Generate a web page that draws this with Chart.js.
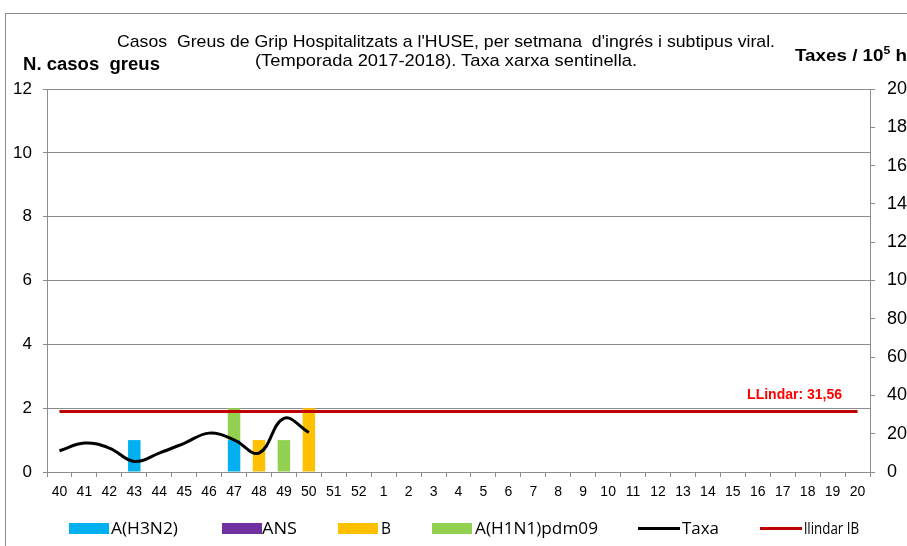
<!DOCTYPE html>
<html>
<head>
<meta charset="utf-8">
<script src="https://cdn.jsdelivr.net/npm/chart.js@4.4.1/dist/chart.umd.min.js"></script>
<style>
  html, body { margin: 0; padding: 0; background: #fff; }
  #wrap { position: relative; width: 907px; height: 546px; overflow: hidden; font-family: "Liberation Sans", Arial, sans-serif; }
  #frame { position: absolute; left: 5px; top: 13px; width: 910px; height: 540px; border: 1px solid #8a8a8a; box-sizing: border-box; }
  #chart { position: absolute; left: 0; top: 0; }
  .fit { position: absolute; white-space: nowrap; transform-origin: 0 0; color: #000; }
  .title { font-size: 17px; }
  .axt { font-weight: bold; font-size: 18px; }
  .sw { position: absolute; top: 523px; width: 40px; height: 11px; }
  .ln { position: absolute; top: 527px; width: 42px; height: 3px; }
  .lt { font-size: 17px; top: 516px; font-family: "Open Sans", "Liberation Sans", sans-serif; }
</style>
</head>
<body>
<div id="wrap">
  <div id="frame"></div>
  <canvas id="chart" width="907" height="546"></canvas>
  <div class="fit title" data-x="117" data-w="658" style="top:32px">Casos&nbsp; Greus de Grip Hospitalitzats a l'HUSE, per setmana&nbsp; d'ingrés i subtipus viral.</div>
  <div class="fit title" data-x="255" data-w="382" style="top:51px">(Temporada 2017-2018). Taxa xarxa sentinella.</div>
  <div class="fit axt" data-x="23" data-w="137" style="top:54px">N. casos&nbsp; greus</div>
  <div class="fit axt" data-x="795" data-w="112" style="top:44px; font-size:17px">Taxes / 10<sup style="font-size:11px">5</sup> h</div>
</div>
<script>
const weeks = ['40','41','42','43','44','45','46','47','48','49','50','51','52',
  '1','2','3','4','5','6','7','8','9','10','11','12','13','14','15','16','17','18','19','20'];

const h3n2 = [0,0,0,1,0,0,0,1,0,0,0];
const ans = [];
const fluB = [0,0,0,0,0,0,0,0,1,0,2];
const h1n1 = [0,0,0,0,0,0,0,1,0,1,0];
const taxa = [11.1,15.1,12.5,5.5,9.9,15.0,20.3,16.8,9.9,28.0,20.6];
const llindarValue = 31.56;
const llindar = weeks.map(() => llindarValue);

const colors = {
  h3n2: '#00B0F0',
  ans: '#7030A0',
  b: '#FFC000',
  h1n1: '#92D050',
  taxa: '#000000',
  llindar: '#C00000'
};

const gridColor = '#8c8c8c';

const llindarLabel = {
  id: 'llindarLabel',
  afterDatasetsDraw(chart) {
    const y2 = chart.scales.y2;
    const ctx = chart.ctx;
    const y = y2.getPixelForValue(llindarValue);
    ctx.save();
    ctx.font = 'bold 14px "Liberation Sans", sans-serif';
    ctx.fillStyle = '#FF0000';
    ctx.textAlign = 'right';
    ctx.textBaseline = 'bottom';
    ctx.fillText('LLindar: 31,56', 842, y - 9);
    ctx.restore();
  }
};

new Chart(document.getElementById('chart').getContext('2d'), {
  type: 'bar',
  data: {
    labels: weeks,
    datasets: [
      { label: 'A(H3N2)', data: h3n2, backgroundColor: colors.h3n2, order: 2, yAxisID: 'y' },
      { label: 'ANS', data: ans, backgroundColor: colors.ans, order: 2, yAxisID: 'y' },
      { label: 'B', data: fluB, backgroundColor: colors.b, order: 2, yAxisID: 'y' },
      { label: 'A(H1N1)pdm09', data: h1n1, backgroundColor: colors.h1n1, order: 2, yAxisID: 'y' },
      { type: 'line', label: 'Taxa', data: taxa, borderColor: colors.taxa, borderWidth: 3,
        pointRadius: 0, tension: 0.4, yAxisID: 'y2', order: 1 },
      { type: 'line', label: 'llindar IB', data: llindar, borderColor: colors.llindar, borderWidth: 3,
        pointRadius: 0, yAxisID: 'y2', order: 0 }
    ]
  },
  options: {
    responsive: false,
    animation: false,
    layout: { padding: { top: 89, bottom: 34, left: 0, right: 0 } },
    datasets: { bar: { barPercentage: 0.5, categoryPercentage: 1 } },
    plugins: { legend: { display: false }, tooltip: { enabled: false }, title: { display: false } },
    scales: {
      x: {
        stacked: true,
        offset: true,
        grid: { offset: true, drawOnChartArea: false, color: gridColor, tickLength: 5 },
        border: { color: gridColor },
        ticks: { color: '#000', font: { family: 'Liberation Sans', size: 14 }, maxRotation: 0, autoSkip: false, padding: 7 },
        afterFit(s) { s.height = 40; }
      },
      y: {
        stacked: true,
        position: 'left',
        min: 0, max: 12,
        ticks: { stepSize: 2, color: '#000', font: { family: 'Liberation Sans', size: 17 }, padding: 11 },
        grid: { color: gridColor, tickLength: 4 },
        border: { color: gridColor },
        afterFit(s) { s.width = 47; }
      },
      y2: {
        position: 'right',
        min: 0, max: 200,
        ticks: { stepSize: 20, color: '#000', font: { family: 'Liberation Sans', size: 18 }, padding: 12 },
        grid: { drawOnChartArea: false, color: gridColor, tickLength: 5 },
        border: { color: gridColor },
        afterFit(s) { s.width = 37; }
      }
    }
  },
  plugins: [llindarLabel]
});

// legend (positions)
const legendItems = [
  { label: 'A(H3N2)', color: colors.h3n2, kind: 'sw', x: 69, tx: 111, tw: 67 },
  { label: 'ANS', color: colors.ans, kind: 'sw', x: 222, tx: 262, tw: 35 },
  { label: 'B', color: colors.b, kind: 'sw', x: 338, tx: 381, tw: 10 },
  { label: 'A(H1N1)pdm09', color: colors.h1n1, kind: 'sw', x: 432, tx: 475, tw: 123 },
  { label: 'Taxa', color: colors.taxa, kind: 'ln', x: 638, tx: 682, tw: 37 },
  { label: 'llindar IB', color: colors.llindar, kind: 'ln', x: 760, tx: 804, tw: 55 }
];
const wrap = document.getElementById('wrap');
legendItems.forEach(it => {
  const sw = document.createElement('div');
  sw.className = it.kind;
  sw.style.left = it.x + 'px';
  sw.style.background = it.color;
  wrap.appendChild(sw);
  const t = document.createElement('div');
  t.className = 'fit lt';
  t.dataset.x = it.tx;
  t.dataset.w = it.tw;
  t.textContent = it.label;
  wrap.appendChild(t);
});

// squeeze text horizontally to the narrow widths of the reference font
document.querySelectorAll('.fit').forEach(el => {
  const w = el.getBoundingClientRect().width;
  el.style.left = el.dataset.x + 'px';
  el.style.transform = 'scaleX(' + (el.dataset.w / w) + ')';
});
</script>
</body>
</html>
